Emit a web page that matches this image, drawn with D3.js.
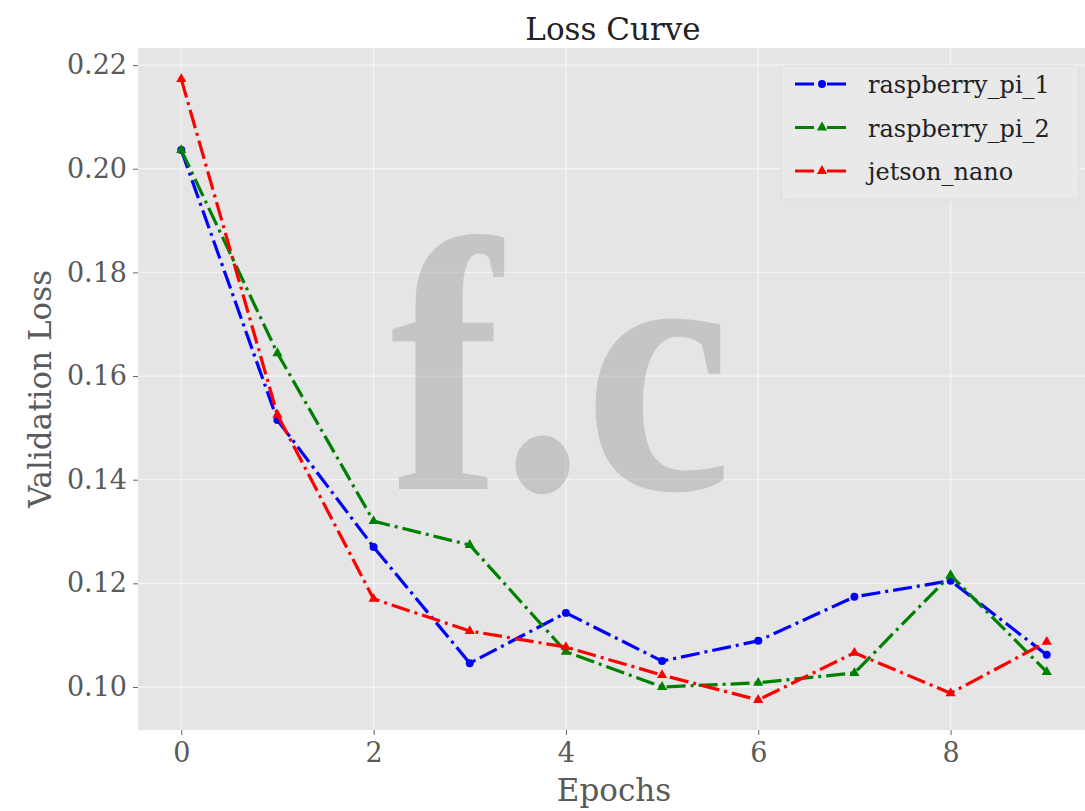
<!DOCTYPE html>
<html>
<head>
<meta charset="utf-8">
<script src="https://cdn.jsdelivr.net/npm/d3@7"></script>
<style>
  html, body { margin: 0; padding: 0; background: #ffffff; }
  svg { display: block; }
</style>
</head>
<body>
<div id="chart"></div>
<script>
const epochs = [0, 1, 2, 3, 4, 5, 6, 7, 8, 9];
const raspberryPi1 = [0.2036, 0.1515, 0.1270, 0.1046, 0.1143, 0.1050, 0.1089, 0.1174, 0.1205, 0.1062];
const raspberryPi2 = [0.2036, 0.1644, 0.1320, 0.1274, 0.1068, 0.1000, 0.1008, 0.1027, 0.1216, 0.1029];
const jetsonNano   = [0.2173, 0.1525, 0.1170, 0.1108, 0.1077, 0.1023, 0.0975, 0.1066, 0.0988, 0.1087];
const seriesNames  = ["raspberry_pi_1", "raspberry_pi_2", "jetson_nano"];
const xTicks = [0, 2, 4, 6, 8];
const yTicks = [0.10, 0.12, 0.14, 0.16, 0.18, 0.20, 0.22];

const W = 1085, H = 811;
const plot = { left: 138, right: 1090, top: 48, bottom: 730 };
const colors = ["#0000ff", "#008000", "#ff0000"];
const markers = [d3.symbolCircle, d3.symbolTriangle, d3.symbolTriangle];
const serif = "'DejaVu Serif', serif";

const svg = d3.select("#chart").append("svg")
  .attr("width", W).attr("height", H);
svg.append("rect").attr("width", W).attr("height", H).attr("fill", "#ffffff");

const x = d3.scaleLinear().domain([-0.45, 9.45]).range([plot.left, plot.right]);
const y = d3.scaleLinear().domain([0.0917, 0.2233]).range([plot.bottom, plot.top]);

// plot background
svg.append("rect")
  .attr("x", plot.left).attr("y", plot.top)
  .attr("width", plot.right - plot.left).attr("height", plot.bottom - plot.top)
  .attr("fill", "#e5e5e5");

// grid
const grid = svg.append("g");
grid.selectAll("line.gx").data(xTicks).enter().append("line")
  .attr("x1", d => x(d)).attr("x2", d => x(d))
  .attr("y1", plot.top).attr("y2", plot.bottom)
  .attr("stroke", "#f4f4f4").attr("stroke-width", 1.3);
grid.selectAll("line.gy").data(yTicks).enter().append("line")
  .attr("y1", d => y(d)).attr("y2", d => y(d))
  .attr("x1", plot.left).attr("x2", plot.right)
  .attr("stroke", "#f4f4f4").attr("stroke-width", 1.3);

// watermark
svg.append("text")
  .attr("transform", "translate(390,489) scale(0.92,1)")
  .attr("font-family", "'Liberation Serif', serif")
  .attr("font-weight", "bold")
  .attr("font-size", 362)
  .attr("fill", "#a0a0a0").attr("opacity", 0.45)
  .text("f.c");

// axes
const xAxis = d3.axisBottom(x).tickValues(xTicks).tickFormat(d3.format("d")).tickSize(5).tickPadding(8);
const yAxis = d3.axisLeft(y).tickValues(yTicks).tickFormat(d3.format(".2f")).tickSize(5).tickPadding(6);

const gx = svg.append("g").attr("transform", `translate(0,${plot.bottom})`).call(xAxis);
const gy = svg.append("g").attr("transform", `translate(${plot.left},0)`).call(yAxis);
[gx, gy].forEach(g => {
  g.select(".domain").remove();
  g.selectAll(".tick line").attr("stroke", "#666666").attr("stroke-width", 1);
  g.selectAll(".tick text").attr("fill", "#5a5a5a")
    .attr("font-family", serif).attr("font-size", 27);
});

// labels
svg.append("text")
  .attr("x", (plot.left + plot.right) / 2 - 1).attr("y", 40)
  .attr("text-anchor", "middle")
  .attr("font-family", serif).attr("font-size", 31).attr("fill", "#222222")
  .text("Loss Curve");
svg.append("text")
  .attr("x", (plot.left + plot.right) / 2).attr("y", 801)
  .attr("text-anchor", "middle")
  .attr("font-family", serif).attr("font-size", 31).attr("fill", "#5a5a5a")
  .text("Epochs");
svg.append("text")
  .attr("transform", `translate(51,${(plot.top + plot.bottom) / 2}) rotate(-90)`)
  .attr("text-anchor", "middle")
  .attr("font-family", serif).attr("font-size", 31).attr("fill", "#5a5a5a")
  .text("Validation Loss");

// series
const allSeries = [raspberryPi1, raspberryPi2, jetsonNano];
const dash = "19,5,3,5";
const line = d3.line().x(d => x(d[0])).y(d => y(d[1]));

svg.append("clipPath").attr("id", "clip").append("rect")
  .attr("x", plot.left).attr("y", plot.top)
  .attr("width", plot.right - plot.left).attr("height", plot.bottom - plot.top);

const gLines = svg.append("g").attr("clip-path", "url(#clip)");
allSeries.forEach((vals, i) => {
  const pts = epochs.map((e, j) => [e, vals[j]]);
  gLines.append("path")
    .attr("d", line(pts))
    .attr("fill", "none")
    .attr("stroke", colors[i])
    .attr("stroke-width", 3.2)
    .attr("stroke-dasharray", dash)
    .attr("stroke-linejoin", "round");
  gLines.selectAll(null).data(pts).enter().append("path")
    .attr("transform", d => `translate(${x(d[0])},${y(d[1])})`)
    .attr("d", d3.symbol().type(markers[i]).size(i === 0 ? 50 : 45))
    .attr("fill", colors[i]);
});

// legend
const lg = svg.append("g");
lg.append("rect")
  .attr("x", 781).attr("y", 66).attr("width", 298).attr("height", 134)
  .attr("rx", 4)
  .attr("fill", "#e9e9e9").attr("stroke", "#dddddd").attr("stroke-width", 1);
seriesNames.forEach((name, i) => {
  const cy = 84 + i * 43.5;
  lg.append("line")
    .attr("x1", 795).attr("x2", 848).attr("y1", cy).attr("y2", cy)
    .attr("stroke", colors[i]).attr("stroke-width", 3.2)
    .attr("stroke-dasharray", dash);
  lg.append("path")
    .attr("transform", `translate(822,${cy})`)
    .attr("d", d3.symbol().type(markers[i]).size(i === 0 ? 50 : 45))
    .attr("fill", colors[i]);
  lg.append("text")
    .attr("x", 868).attr("y", cy + 9)
    .attr("font-family", serif).attr("font-size", 24).attr("fill", "#222222")
    .text(name);
});
</script>
</body>
</html>
